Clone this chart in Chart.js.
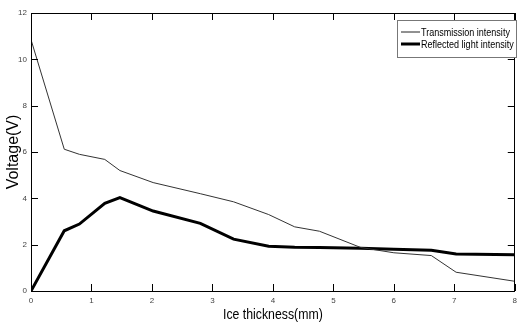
<!DOCTYPE html>
<html>
<head>
<meta charset="utf-8">
<script src="https://cdn.jsdelivr.net/npm/chart.js@4.4.0/dist/chart.umd.min.js"></script>
<style>
  html, body { margin: 0; padding: 0; background: #fff; }
  #wrap { width: 522px; height: 327px; position: relative; }
</style>
</head>
<body>
<div id="wrap"><canvas id="iceChart"></canvas></div>
<script>
// --- data ---
const thickness = [0, 0.55, 0.8, 1.22, 1.47, 2.02, 2.8, 3.35, 3.93, 4.36, 4.77, 5.45, 6.0, 6.62, 7.03, 8];
const transmission = [10.85, 6.12, 5.9, 5.68, 5.2, 4.68, 4.2, 3.85, 3.3, 2.77, 2.58, 1.88, 1.65, 1.53, 0.81, 0.42];
const reflected = [0, 2.6, 2.89, 3.78, 4.03, 3.45, 2.92, 2.24, 1.93, 1.89, 1.88, 1.85, 1.8, 1.76, 1.6, 1.57];
const xTicks = [0, 1, 2, 3, 4, 5, 6, 7, 8];
const yTicks = [0, 2, 4, 6, 8, 10, 12];
const seriesNames = ['Transmission intensity', 'Reflected light intensity'];
const xTitle = 'Ice thickness(mm)';

const sans = '"Liberation Sans", Arial, sans-serif';
const squeeze = 0.82; // no narrow font installed, so squeeze the normal one

function toPoints(ys) {
    return thickness.map((x, i) => ({ x: x, y: ys[i] }));
}

// draws text squeezed horizontally, like Arial Narrow
function narrowText(ctx, text, x, y, size, align) {
    ctx.save();
    ctx.font = size + 'px ' + sans;
    ctx.textAlign = align;
    ctx.translate(x, y);
    ctx.scale(squeeze, 1);
    ctx.fillText(text, 0, 0);
    ctx.restore();
}

// frame + inward tick marks, legend and x title
const frameTicks = {
    id: 'frameTicks',
    afterDatasetsDraw(chart) {
        const { ctx, chartArea: a, scales } = chart;
        const len = 7;
        ctx.save();
        ctx.strokeStyle = '#000';
        ctx.lineWidth = 1;
        ctx.strokeRect(Math.round(a.left) + 0.5, Math.round(a.top) + 0.5,
            Math.round(a.right - a.left) - 1, Math.round(a.bottom - a.top));
        ctx.beginPath();
        xTicks.forEach(v => {
            const px = Math.round(scales.x.getPixelForValue(v)) + 0.5;
            ctx.moveTo(px, a.bottom); ctx.lineTo(px, a.bottom - len);
            ctx.moveTo(px, a.top); ctx.lineTo(px, a.top + len);
        });
        yTicks.forEach(v => {
            const py = Math.round(scales.y.getPixelForValue(v)) + 0.5;
            ctx.moveTo(a.left, py); ctx.lineTo(a.left + len, py);
            ctx.moveTo(a.right, py); ctx.lineTo(a.right - len, py);
        });
        ctx.stroke();
        ctx.restore();
    },
    afterDraw(chart) {
        const ctx = chart.ctx;
        const a = chart.chartArea;
        // legend box top-right
        const bx = 397.5, by = 20.5, bw = 119, bh = 37;
        ctx.save();
        ctx.fillStyle = '#fff';
        ctx.fillRect(bx, by, bw, bh);
        ctx.strokeStyle = '#777';
        ctx.lineWidth = 1;
        ctx.strokeRect(bx, by, bw, bh);
        const rows = [
            { y: 32, w: 1, c: '#222' },
            { y: 44, w: 3, c: '#000' }
        ];
        ctx.textBaseline = 'middle';
        ctx.fillStyle = '#000';
        rows.forEach((r, i) => {
            ctx.beginPath();
            ctx.strokeStyle = r.c;
            ctx.lineWidth = r.w;
            ctx.moveTo(401, r.y);
            ctx.lineTo(420, r.y);
            ctx.stroke();
            narrowText(ctx, seriesNames[i], 421, r.y + 0.5, 11, 'left');
        });
        // x axis title
        narrowText(ctx, xTitle, (a.left + a.right) / 2, 315, 15, 'center');
        ctx.restore();
    }
};

const ctx = document.getElementById('iceChart').getContext('2d');
new Chart(ctx, {
    type: 'line',
    data: {
        datasets: [
            {
                label: seriesNames[0],
                data: toPoints(transmission),
                borderColor: '#333',
                borderWidth: 1,
                pointRadius: 0,
                tension: 0
            },
            {
                label: seriesNames[1],
                data: toPoints(reflected),
                borderColor: '#000',
                borderWidth: 3,
                pointRadius: 0,
                tension: 0
            }
        ]
    },
    options: {
        responsive: true,
        maintainAspectRatio: false,
        animation: false,
        layout: { padding: { top: 13, right: 1, left: 0, bottom: 0 } },
        plugins: {
            legend: { display: false },
            tooltip: { enabled: false }
        },
        scales: {
            x: {
                type: 'linear',
                min: 0, max: 8,
                afterBuildTicks: s => { s.ticks = xTicks.map(v => ({ value: v })); },
                afterFit: s => { s.height = 36; },
                grid: { display: false, drawTicks: false },
                border: { display: false },
                ticks: { padding: 5, font: { size: 8, family: sans }, color: '#444', maxRotation: 0 }
            },
            y: {
                min: 0, max: 12,
                afterBuildTicks: s => { s.ticks = yTicks.map(v => ({ value: v })); },
                afterFit: s => { s.width = 31; },
                grid: { display: false, drawTicks: false },
                border: { display: false },
                ticks: { padding: 4, font: { size: 8, family: sans }, color: '#444' },
                title: {
                    display: true,
                    text: 'Voltage(V)',
                    color: '#000',
                    font: { size: 16, family: sans },
                    padding: { top: 4, bottom: 0 }
                }
            }
        }
    },
    plugins: [frameTicks]
});
</script>
</body>
</html>
